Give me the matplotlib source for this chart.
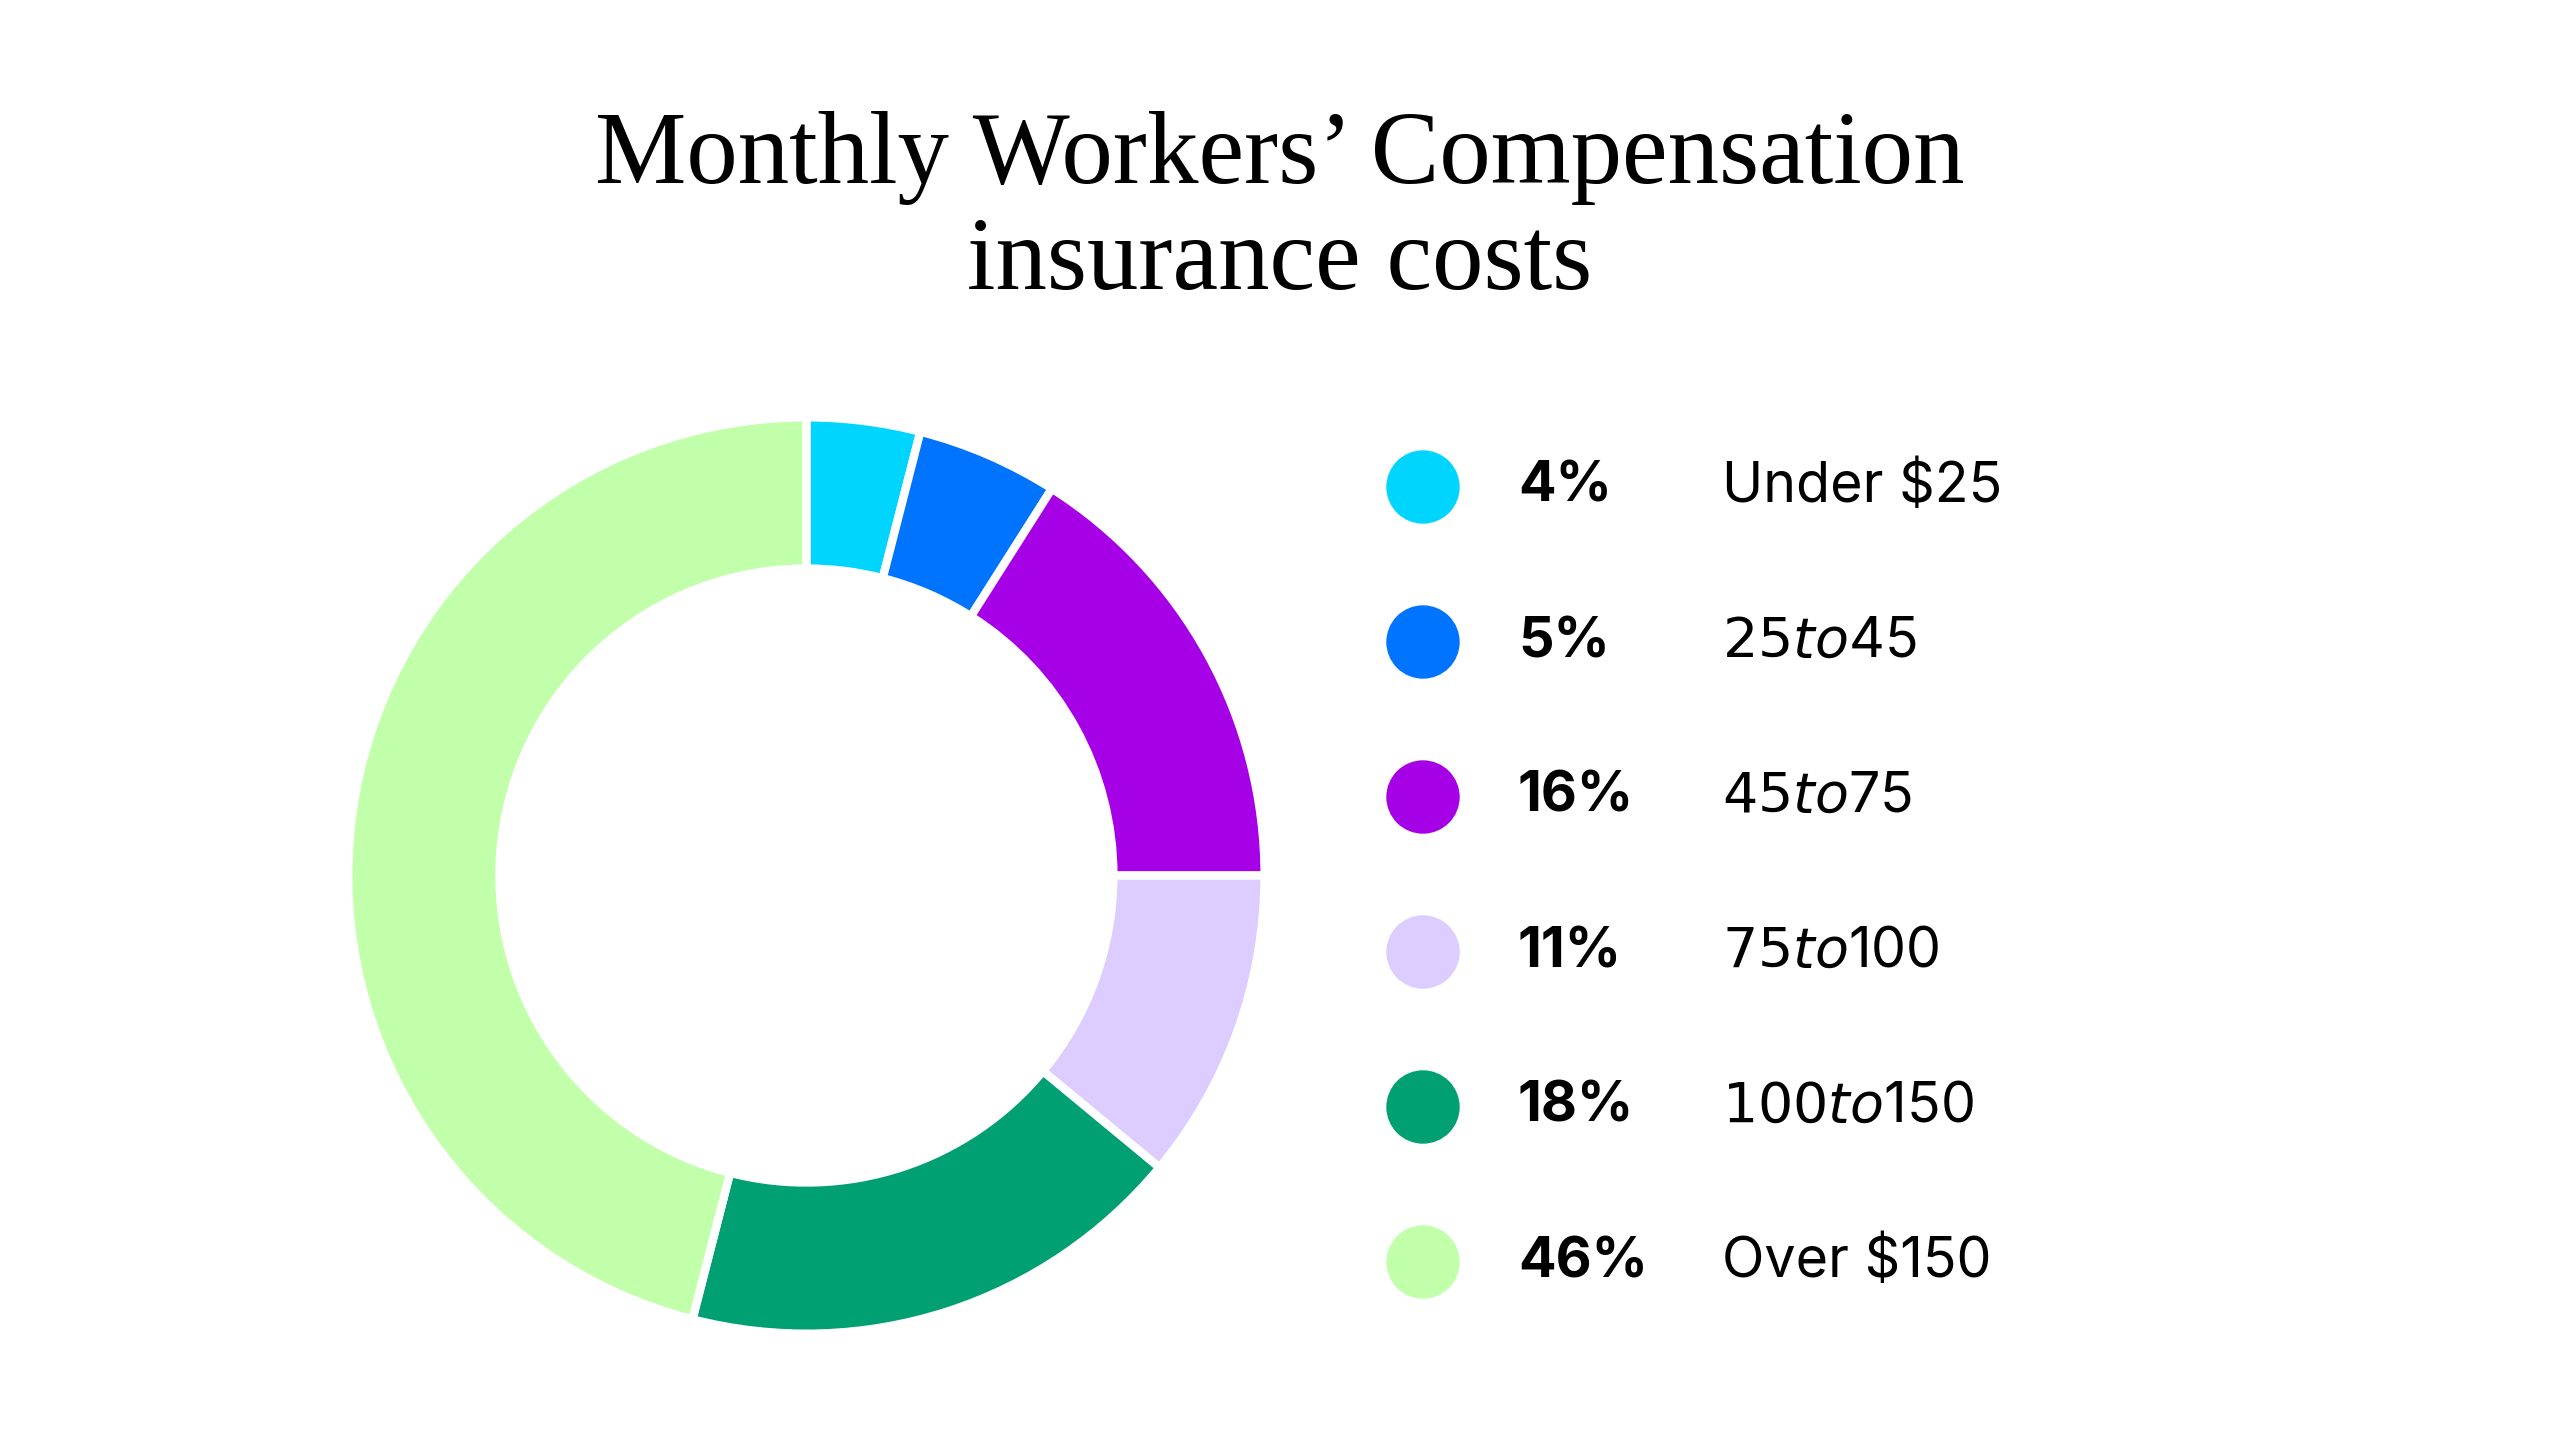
import matplotlib
matplotlib.use("Agg")
import matplotlib.pyplot as plt
from matplotlib.patches import Circle

labels = ["Under $25", "$25 to $45", "$45 to $75", "$75 to $100", "$100 to $150", "Over $150"]
values = [4, 5, 16, 11, 18, 46]
colors = ["#00D5FF", "#0073FF", "#A600E6", "#DCCCFF", "#00A073", "#C2FFAA"]

fig = plt.figure(figsize=(25.6, 14.4), dpi=100)
fig.patch.set_facecolor("white")

fig.text(0.5, 0.89, "Monthly Workers\u2019 Compensation", ha="center", va="center",
         fontsize=74, family="Liberation Serif")
fig.text(0.5, 0.817, "insurance costs", ha="center", va="center",
         fontsize=74, family="Liberation Serif")

ax = fig.add_axes([0.118, 0.042, 0.394, 0.7])
ax.pie(values, colors=colors, startangle=90, counterclock=False,
       wedgeprops=dict(width=0.33, edgecolor="white", linewidth=6))
ax.set_xlim(-1.1, 1.1); ax.set_ylim(-1.1, 1.1)
ax.set_aspect("equal")

ov = fig.add_axes([0, 0, 1, 1])
ov.set_xlim(0, 2560); ov.set_ylim(1440, 0); ov.axis("off")
for i, (lab, v, c) in enumerate(zip(labels, values, colors)):
    y = 487 + i * 155
    ov.add_patch(Circle((1423, y), 36, color=c))
    ov.text(1518, y, f"{v}%", va="center", ha="left", fontsize=40,
            fontweight="bold", family="Inter")
    ov.text(1722, y, lab, va="center", ha="left", fontsize=40, family="Inter")

fig.savefig("out.png", dpi=100, facecolor="white")
